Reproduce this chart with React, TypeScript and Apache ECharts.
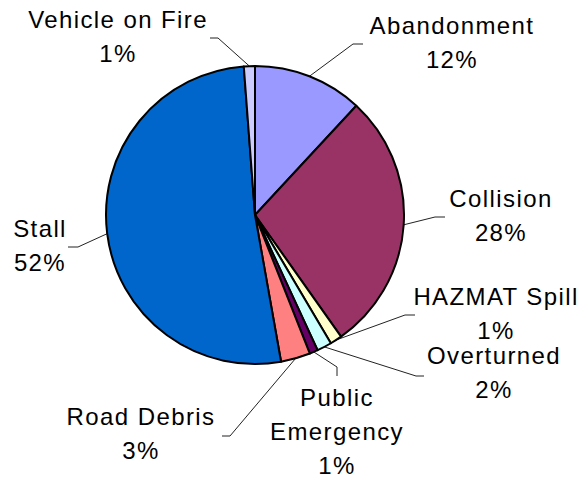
import React, { useEffect, useRef } from "react";
import * as echarts from "echarts";

const categories = [
  "Abandonment",
  "Collision",
  "HAZMAT Spill",
  "Overturned",
  "Public Emergency",
  "Road Debris",
  "Stall",
  "Vehicle on Fire",
];
const displayNames = [
  "Abandonment",
  "Collision",
  "HAZMAT Spill",
  "Overturned",
  "Public\nEmergency",
  "Road Debris",
  "Stall",
  "Vehicle on Fire",
];
const values = [11.9, 28.3, 1.3, 1.6, 0.9, 3.2, 51.6, 1.2];
const colors = ["#9999FF", "#993366", "#FFFFCC", "#CCFFFF", "#660066", "#FF8080", "#0066CC", "#CCCCFF"];

// label block centres and leader-line elbow / end points (layout, px)
const labelCenters = [
  [452, 42],
  [501, 215],
  [496, 313],
  [494, 372],
  [337, 431],
  [141, 433],
  [40, 245],
  [118, 36],
];
const lineElbows = [
  [[353, 44], [363, 44]],
  [[435, 217], [445, 217]],
  [[405, 315], [415, 315]],
  [[416, 376], [424, 376]],
  [[337, 367], [337, 376]],
  [[230, 436], [222, 436]],
  [[78, 247], [68, 247]],
  [[218, 38], [210, 38]],
];

const CX = 255;
const CY = 215;
const R = 149;

export default function App() {
  const ref = useRef<HTMLDivElement>(null);
  useEffect(() => {
    if (!ref.current) return;
    const chart = echarts.init(ref.current, undefined, { renderer: "svg" });
    const total = values.reduce((a, b) => a + b, 0);
    const cum: number[] = [];
    let acc = 0;
    values.forEach((v) => {
      cum.push(acc + v / 2);
      acc += v;
    });
    chart.setOption({
      animation: false,
      backgroundColor: "#ffffff",
      series: [
        {
          type: "pie",
          center: [CX, CY],
          radius: R,
          startAngle: 90,
          clockwise: true,
          avoidLabelOverlap: false,
          data: categories.map((c, i) => ({
            name: c,
            value: values[i],
            itemStyle: { color: colors[i] },
          })),
          itemStyle: { borderColor: "#000000", borderWidth: 2 },
          label: {
            show: true,
            position: "outside",
            fontFamily: "'Liberation Sans', Arial, sans-serif",
            fontSize: 24,
            lineHeight: 34,
            color: "#000000",
            align: "center",
            formatter: (p: any) =>
              `${displayNames[p.dataIndex]}\n${Math.round(p.percent)}%`,
          },
          labelLine: {
            show: true,
            lineStyle: { color: "#222222", width: 1 },
          },
          labelLayout: (params: any) => {
            const i = params.dataIndex;
            const ang = (cum[i] / total) * Math.PI * 2;
            const edge = [CX + R * Math.sin(ang), CY - R * Math.cos(ang)];
            return {
              x: labelCenters[i][0],
              y: labelCenters[i][1],
              align: "center",
              verticalAlign: "middle",
              labelLinePoints: [edge, lineElbows[i][0], lineElbows[i][1]],
            };
          },
          emphasis: { disabled: true },
        },
      ],
    });
    return () => chart.dispose();
  }, []);
  return (
    <>
      <style>{`.pie-chart svg text { letter-spacing: 1.4px; }`}</style>
      <div
        ref={ref}
        className="pie-chart"
        style={{ position: "fixed", left: 0, top: 0, width: 579, height: 478 }}
      />
    </>
  );
}
